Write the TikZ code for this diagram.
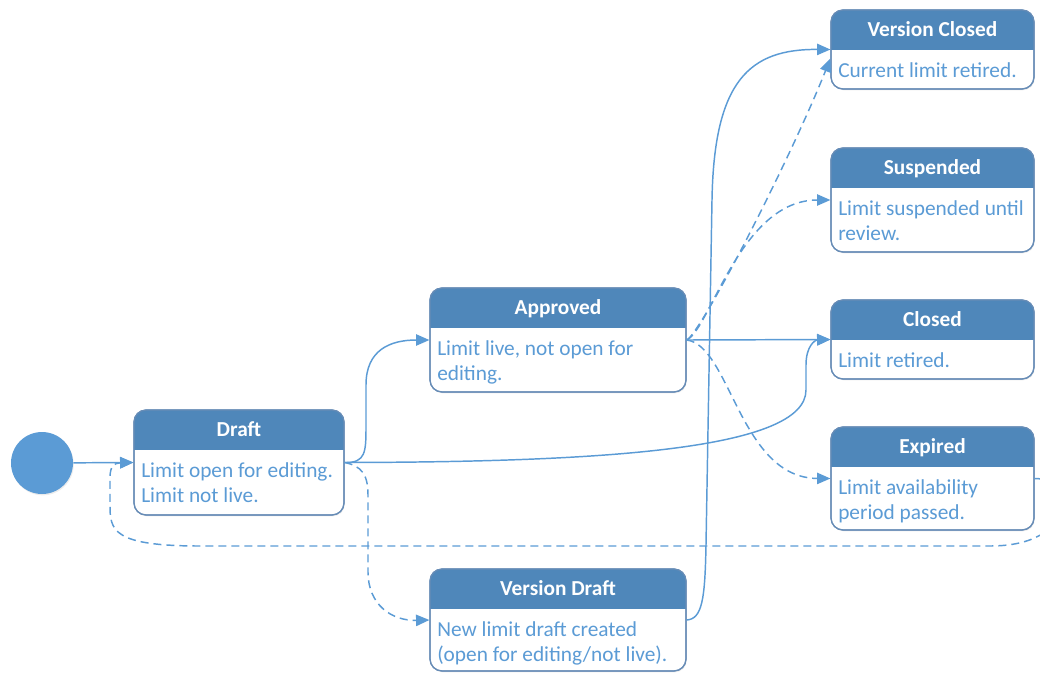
\documentclass[tikz,border=0pt]{standalone}
\usepackage{fontspec}
\setmainfont{Carlito}
\usetikzlibrary{fit,calc,arrows.meta,shadows}
\definecolor{hdr}{RGB}{79,135,186}
\definecolor{edge}{RGB}{91,155,213}
\definecolor{bodytxt}{RGB}{91,155,213}
\definecolor{brd}{RGB}{103,140,182}
\tikzset{
  box/.style={draw=brd, fill=white, line width=0.9pt, rounded corners=9pt, inner sep=0pt,
    drop shadow={shadow xshift=0.6pt, shadow yshift=-1pt, opacity=0.15}},
  ttl/.style={text=white, font=\fontsize{16}{18.75}\selectfont\bfseries, inner sep=0pt, anchor=base},
  txt/.style={text=bodytxt, font=\fontsize{16}{18.75}\selectfont, inner sep=0pt, anchor=north west, align=left},
  conn/.style={draw=edge, line width=1.1pt, -{Triangle[length=10pt,width=8.5pt]}},
  dsh/.style={conn, dash pattern=on 6pt off 3.75pt},
}
\newcommand\mkstate[7]{%
  \node[box, fit={(#2,#3)(#4,#5)}] (#1) {};
  \begin{scope}
    \clip[rounded corners=9pt] (#2,#3) rectangle (#4,#5);
    \fill[hdr] (#2,#3) rectangle (#4,#3+40);
  \end{scope}
  \draw[brd, line width=0.9pt, rounded corners=9pt] (#2,#3) rectangle (#4,#5);
  \node[ttl] (#1-t) at ({(#2+#4)/2},#3+26.5) {#6};
  \node[txt] (#1-b) at (#2+7,#3+49.7) {\rule{0pt}{13pt}#7};
}
\begin{document}
\begin{tikzpicture}[x=0.75pt,y=-0.75pt]
\useasboundingbox (0,0) rectangle (1040,672);

\node[circle, fill=edge, minimum size=46.5pt, inner sep=0pt,
  drop shadow={shadow xshift=0.6pt, shadow yshift=-1pt, opacity=0.15}] (start) at (42,463) {};

\mkstate{vclosed}{831}{10}{1034}{89}{Version Closed}{Current limit retired.}
\mkstate{susp}{831}{148}{1034}{252}{Suspended}{Limit suspended until\\review.}
\mkstate{closed}{831}{300}{1034}{379}{Closed}{Limit retired.}
\mkstate{expired}{831}{427}{1034}{530}{Expired}{Limit availability\\period passed.}
\mkstate{draft}{134}{410}{344}{515}{Draft}{Limit open for editing.\\Limit not live.}
\mkstate{approved}{430}{288}{686}{392}{Approved}{Limit live, not open for\\editing.}
\mkstate{vdraft}{430}{569}{686}{671}{Version Draft}{New limit draft created\\(open for editing/not live).}

% start -> draft
\draw[conn] (start) -- (draft.west);
% expired -> draft (dashed, around the bottom)
\draw[dsh] (expired.east) .. controls (1075,478) and (1078,546) .. (990,546)
  -- (200,546) .. controls (112,546) and (110,530) .. (110,505)
  -- (110,478) .. controls (110,466) and (114,463) .. (draft.west);
% draft -> approved
\draw[conn] (draft.east) .. controls (366,463) and (366,452) .. (366,425)
  -- (366,385) .. controls (366,350) and (390,340) .. (approved.west);
% draft -> closed
\draw[conn] (draft.east) .. controls (600,462) and (806,450) .. (806,390)
  -- (806,365) .. controls (806,346) and (815,340) .. (closed.west);
% draft -> version draft
\draw[dsh] (draft.east) .. controls (362,466) and (368,475) .. (368,495)
  -- (368,572) .. controls (368,605) and (392,621) .. (vdraft.west);
% version draft -> version closed
\draw[conn] (vdraft.east) .. controls (702,619) and (705,600) .. (706,545)
  -- (712,200) .. controls (714,80) and (750,49) .. (vclosed.west);
% approved -> version closed
\draw[dsh] (approved.east) .. controls (700,335) and (790,160) .. ($(vclosed.west)+(0,9)$);
% approved -> suspended
\draw[dsh] (approved.east) .. controls (710,330) and (740,200) .. (susp.west);
% approved -> closed
\draw[conn] (approved.east) -- (closed.west);
% approved -> expired
\draw[dsh] (approved.east) .. controls (730,345) and (740,478) .. (expired.west);
\end{tikzpicture}
\end{document}
